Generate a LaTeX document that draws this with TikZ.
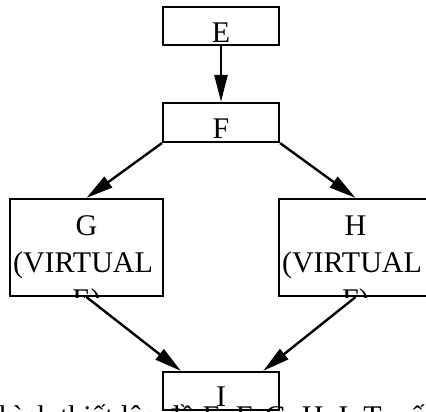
\documentclass[tikz,border=0pt]{standalone}
\usepackage{fontspec}
\setmainfont{Liberation Serif}
\usetikzlibrary{arrows.meta}
\begin{document}
\begin{tikzpicture}[x=1pt,y=-1pt,
  box/.style={draw, line width=2.2pt, fill=white, inner sep=0pt},
  smallbox/.style={box, minimum width=116pt, minimum height=38pt},
  bigbox/.style={box, minimum width=153pt, minimum height=97pt},
  lbl/.style={font=\fontsize{30pt}{37pt}\selectfont, anchor=base, inner sep=0pt},
  edge/.style={line width=2.4pt, -{Triangle[length=27pt,width=13pt]}}
]
\useasboundingbox (0,0) rectangle (426,412);
\clip (0,0) rectangle (426,412);

% boxes
\node[smallbox] (E) at (221,26) {};
\node[smallbox, minimum height=39pt] (F) at (221,122.5) {};
\node[bigbox] (G) at (86.5,247.5) {};
\node[bigbox] (H) at (355.5,247.5) {};
\node[smallbox] (I) at (221,391) {};

% labels, clipped to their boxes
\begin{scope}
  \clip (E.north west) rectangle (E.south east);
  \node[lbl] (el) at (221,43) {E};
\end{scope}
\begin{scope}
  \clip (F.north west) rectangle (F.south east);
  \node[lbl] (fl) at (221,139) {F};
\end{scope}
\begin{scope}
  \clip (G.north west) rectangle (G.south east);
  \node[lbl] (g1) at (86.5,235) {G};
  \node[lbl] (g2) at (83,272) {(VIRTUAL};
  \node[lbl] (g3) at (86.5,309) {E)};
\end{scope}
\begin{scope}
  \clip (H.north west) rectangle (H.south east);
  \node[lbl] (h1) at (355.5,235) {H};
  \node[lbl] (h2) at (352,272) {(VIRTUAL};
  \node[lbl] (h3) at (355.5,309) {F)};
\end{scope}
\begin{scope}
  \clip (I.north west) rectangle (I.south east);
  \node[lbl] (il) at (221,406) {I};
\end{scope}

% connectors
\draw[edge] (E.south) -- (F.north);
\draw[edge] (F.south west) -- (G.north);
\draw[edge] (F.south east) -- (H.north);
\draw[edge] (G.south) -- ([xshift=19pt]I.north west);
\draw[edge] (H.south) -- ([xshift=-17pt]I.north east);

% caption line cut off by the bottom edge
\node[lbl, anchor=base west] (cap) at (-1,426) {hình thiết lập đồ E, F, G, H, I. Tuyến};
\end{tikzpicture}
\end{document}
